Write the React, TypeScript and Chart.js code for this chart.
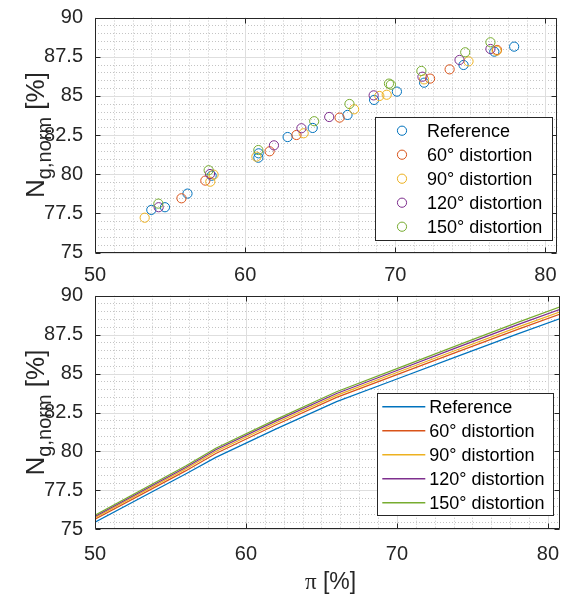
import React, { useEffect, useRef } from "react";
import { Chart, registerables } from "chart.js";
Chart.register(...registerables);

const seriesNames = ["Reference", "60° distortion", "90° distortion", "120° distortion", "150° distortion"];
const seriesColors = ["#0072BD", "#D95319", "#EDB120", "#7E2F8E", "#77AC30"];

// Top panel: measured points (π [%], N_g,norm [%])
const refX = [53.75, 54.66, 56.16, 57.77, 60.88, 60.9, 62.83, 64.5, 66.82, 68.59, 70.11, 71.92, 74.55, 76.6, 77.92];
const refY = [77.72, 77.89, 78.76, 79.9, 81.05, 81.33, 82.37, 82.95, 83.78, 84.74, 85.27, 85.84, 86.97, 87.82, 88.14];
const d60X = [55.76, 57.35, 61.63, 63.42, 66.29, 72.32, 73.62, 76.78];
const d60Y = [78.46, 79.59, 81.46, 82.5, 83.61, 86.1, 86.69, 87.93];
const d90X = [53.31, 57.68, 57.9, 60.75, 63.9, 67.26, 68.94, 69.43, 71.92, 74.88, 76.75];
const d90Y = [77.22, 79.52, 79.97, 81.12, 82.61, 84.14, 84.99, 85.07, 86.05, 87.2, 87.88];
const d120X = [54.24, 57.66, 61.92, 63.75, 65.6, 68.56, 71.81, 74.28, 76.34];
const d120Y = [77.89, 80.01, 81.84, 82.93, 83.65, 85.03, 86.22, 87.29, 87.99];
const d150X = [54.22, 57.57, 60.88, 64.6, 66.95, 69.58, 69.71, 71.74, 74.66, 76.34];
const d150Y = [78.12, 80.25, 81.54, 83.38, 84.48, 85.78, 85.71, 86.59, 87.78, 88.42];

// Bottom panel: fitted curves
const lineX = [50, 56, 58, 62, 66, 70, 74, 78, 81];
const refLineY = [75.45, 78.55, 79.62, 81.45, 83.2, 84.65, 86.1, 87.55, 88.6];
const d60LineY = [75.65, 78.75, 79.87, 81.71, 83.47, 84.93, 86.39, 87.84, 88.88];
const d90LineY = [75.75, 78.87, 80.0, 81.84, 83.6, 85.07, 86.53, 87.98, 89.03];
const d120LineY = [75.83, 78.97, 80.11, 81.96, 83.72, 85.2, 86.68, 88.14, 89.19];
const d150LineY = [75.9, 79.06, 80.21, 82.06, 83.83, 85.32, 86.81, 88.29, 89.35];

const xTicks = [50, 60, 70, 80];
const yTicks = [75, 77.5, 80, 82.5, 85, 87.5, 90];

const X_MIN = 50, X_MAX = 80.8, Y_MIN = 75, Y_MAX = 90;
const FONT = "'Liberation Sans', Arial, sans-serif";
const AX = "#262626";

const scatterX = [refX, d60X, d90X, d120X, d150X];
const scatterY = [refY, d60Y, d90Y, d120Y, d150Y];
const lineY = [refLineY, d60LineY, d90LineY, d120LineY, d150LineY];

const matlabAxes = {
  id: "matlabAxes",
  beforeDatasetsDraw(chart: any) {
    const { ctx, chartArea } = chart;
    const { left, right, top, bottom } = chartArea;
    const xs = chart.scales.x, ys = chart.scales.y;
    ctx.save();
    ctx.lineWidth = 1;
    ctx.strokeStyle = "#c4c4c4";
    ctx.setLineDash([1, 2]);
    const nx = Math.floor((X_MAX - X_MIN) / 1.25 + 1e-6);
    for (let i = 1; i <= nx; i++) {
      if (i % 8 === 0) continue;
      const v = X_MIN + i * 1.25;
      const px = Math.round(xs.getPixelForValue(v)) + 0.5;
      ctx.beginPath(); ctx.moveTo(px, top); ctx.lineTo(px, bottom); ctx.stroke();
    }
    const ny = Math.round((Y_MAX - Y_MIN) / 0.5);
    for (let i = 1; i < ny; i++) {
      if (i % 5 === 0) continue;
      const v = Y_MIN + i * 0.5;
      const py = Math.round(ys.getPixelForValue(v)) + 0.5;
      ctx.beginPath(); ctx.moveTo(left, py); ctx.lineTo(right, py); ctx.stroke();
    }
    ctx.setLineDash([]);
    ctx.strokeStyle = "#dedede";
    xTicks.forEach((v) => {
      const px = Math.round(xs.getPixelForValue(v)) + 0.5;
      ctx.beginPath(); ctx.moveTo(px, top); ctx.lineTo(px, bottom); ctx.stroke();
    });
    yTicks.forEach((v) => {
      const py = Math.round(ys.getPixelForValue(v)) + 0.5;
      ctx.beginPath(); ctx.moveTo(left, py); ctx.lineTo(right, py); ctx.stroke();
    });
    ctx.restore();
  },
  afterDatasetsDraw(chart: any, _a: any, opts: any) {
    const { ctx, chartArea } = chart;
    const { left, right, top, bottom } = chartArea;
    const xs = chart.scales.x, ys = chart.scales.y;
    ctx.save();
    ctx.lineWidth = 1;
    ctx.strokeStyle = AX;
    const L = Math.round(left) + 0.5, R = Math.round(right) - 0.5, T = Math.round(top) + 0.5, B = Math.round(bottom) - 0.5;
    ctx.beginPath(); ctx.rect(L, T, R - L, B - T); ctx.stroke();
    const tl = 5;
    xTicks.forEach((v) => {
      const px = Math.round(xs.getPixelForValue(v)) + 0.5;
      ctx.beginPath(); ctx.moveTo(px, B); ctx.lineTo(px, B - tl); ctx.moveTo(px, T); ctx.lineTo(px, T + tl); ctx.stroke();
    });
    yTicks.forEach((v) => {
      const py = Math.round(ys.getPixelForValue(v)) + 0.5;
      ctx.beginPath(); ctx.moveTo(L, py); ctx.lineTo(L + tl, py); ctx.moveTo(R, py); ctx.lineTo(R - tl, py); ctx.stroke();
    });

    const lg = opts.legend;
    if (lg) {
      ctx.fillStyle = "#ffffff";
      ctx.fillRect(lg.left, lg.top, lg.width, lg.height);
      ctx.strokeStyle = AX;
      ctx.lineWidth = 1;
      ctx.strokeRect(Math.round(lg.left) + 0.5, Math.round(lg.top) + 0.5, Math.round(lg.width), Math.round(lg.height));
      ctx.font = `18px ${FONT}`;
      ctx.textBaseline = "middle";
      ctx.textAlign = "left";
      seriesNames.forEach((name, i) => {
        const cy = lg.top + 14 + 24 * i;
        if (lg.kind === "marker") {
          ctx.strokeStyle = seriesColors[i];
          ctx.lineWidth = 1;
          ctx.beginPath(); ctx.arc(lg.left + 27, cy, 4.6, 0, Math.PI * 2); ctx.stroke();
        } else {
          ctx.strokeStyle = seriesColors[i];
          ctx.lineWidth = 1.6;
          ctx.beginPath(); ctx.moveTo(lg.left + 5, cy); ctx.lineTo(lg.left + 48, cy); ctx.stroke();
        }
        ctx.fillStyle = "#000000";
        ctx.fillText(name, lg.left + 52, cy + 1);
      });
    }

    ctx.fillStyle = AX;
    ctx.textBaseline = "alphabetic";
    ctx.textAlign = "left";
    const big = `26px ${FONT}`, small = `20px ${FONT}`;
    ctx.font = big; const w1 = ctx.measureText("N").width; const w3 = ctx.measureText(" [%]").width;
    ctx.font = small; const w2 = ctx.measureText("g,norm").width;
    const total = w1 + w2 + w3;
    ctx.translate(opts.yTitleX, (top + bottom) / 2);
    ctx.rotate(-Math.PI / 2);
    let x0 = -total / 2;
    ctx.font = big; ctx.fillText("N", x0, 0); x0 += w1;
    ctx.font = small; ctx.fillText("g,norm", x0, 7); x0 += w2;
    ctx.font = big; ctx.fillText(" [%]", x0, 0);
    ctx.setTransform(1, 0, 0, 1, 0, 0);

    if (opts.xTitle) {
      const f1 = `23px 'Liberation Serif', serif`, f2 = `23px ${FONT}`;
      ctx.font = f1; const a = ctx.measureText("π").width;
      ctx.font = f2; const b = ctx.measureText(" [%]").width;
      const sx = (left + right) / 2 + 3 - (a + b) / 2;
      ctx.font = f1; ctx.fillText("π", sx, opts.xTitleY);
      ctx.font = f2; ctx.fillText(" [%]", sx + a, opts.xTitleY);
    }
    ctx.restore();
  },
};

function makeScales(axisBottomHeight: number, xPad: number) {
  return {
    x: {
      type: "linear",
      min: X_MIN,
      max: X_MAX,
      afterBuildTicks: (s: any) => { s.ticks = xTicks.map((v) => ({ value: v })); },
      afterFit: (s: any) => { s.height = axisBottomHeight; s.paddingLeft = 0; s.paddingRight = 0; },
      grid: { display: false, drawTicks: false },
      border: { display: false },
      ticks: { font: { size: 20, family: FONT }, color: AX, padding: xPad, maxRotation: 0, autoSkip: false, callback: (v: any) => String(v) },
    },
    y: {
      type: "linear",
      min: Y_MIN,
      max: Y_MAX,
      afterBuildTicks: (s: any) => { s.ticks = yTicks.map((v) => ({ value: v })); },
      afterFit: (s: any) => { s.width = 95; s.paddingTop = 0; s.paddingBottom = 0; },
      grid: { display: false, drawTicks: false },
      border: { display: false },
      ticks: { font: { size: 20, family: FONT }, color: AX, padding: 12, autoSkip: false, callback: (v: any) => String(v) },
    },
  };
}

export default function App() {
  const topRef = useRef<HTMLCanvasElement>(null);
  const botRef = useRef<HTMLCanvasElement>(null);

  useEffect(() => {
    document.body.style.margin = "0";
    const top = new Chart(topRef.current as HTMLCanvasElement, {
      type: "scatter",
      data: {
        datasets: seriesNames.map((name, i) => ({
          label: name,
          data: scatterX[i].map((x, k) => ({ x, y: scatterY[i][k] })),
          borderColor: seriesColors[i],
          backgroundColor: "rgba(0,0,0,0)",
          pointRadius: 4.6,
          pointBorderWidth: 1,
          pointStyle: "circle",
          order: 5 - i,
        })),
      },
      options: {
        responsive: false,
        animation: false,
        devicePixelRatio: 1,
        layout: { padding: { top: 17.5, right: 3, left: 0, bottom: 0 } },
        scales: makeScales(594 - 252.5, 11) as any,
        plugins: {
          legend: { display: false },
          tooltip: { enabled: false },
          matlabAxes: { legend: { left: 375, top: 116.7, width: 177, height: 123.3, kind: "marker" }, yTitleX: 44 },
        } as any,
      },
      plugins: [matlabAxes],
    } as any);

    const bot = new Chart(botRef.current as HTMLCanvasElement, {
      type: "line",
      data: {
        datasets: seriesNames.map((name, i) => ({
          label: name,
          data: lineX.map((x, k) => ({ x, y: lineY[i][k] })),
          borderColor: seriesColors[i],
          backgroundColor: seriesColors[i],
          borderWidth: 1.2,
          pointRadius: 0,
          tension: 0,
          fill: false,
          order: 5 - i,
        })),
      },
      options: {
        responsive: false,
        animation: false,
        devicePixelRatio: 1,
        layout: { padding: { top: 295.7, right: 3, left: 0, bottom: 0 } },
        scales: makeScales(594 - 529.3, 13) as any,
        plugins: {
          legend: { display: false },
          tooltip: { enabled: false },
          matlabAxes: { legend: { left: 377.3, top: 392.7, width: 176, height: 122.3, kind: "line" }, yTitleX: 44, xTitle: true, xTitleY: 589 },
        } as any,
      },
      plugins: [matlabAxes],
    } as any);

    return () => { top.destroy(); bot.destroy(); };
  }, []);

  const cs: React.CSSProperties = { position: "absolute", left: 0, top: 0, width: 563, height: 594, display: "block" };
  return (
    <div style={{ position: "fixed", left: 0, top: 0, width: 563, height: 594, background: "#ffffff" }}>
      <canvas ref={topRef} width={563} height={594} style={cs} />
      <canvas ref={botRef} width={563} height={594} style={cs} />
    </div>
  );
}
